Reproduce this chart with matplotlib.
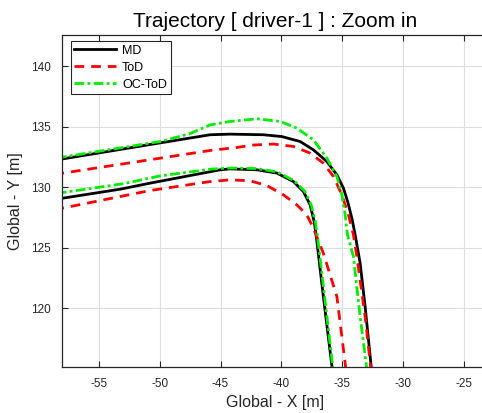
import matplotlib
matplotlib.use("Agg")
import matplotlib.pyplot as plt

plt.rcParams["font.family"] = ["Liberation Sans", "DejaVu Sans"]
plt.rcParams["axes.unicode_minus"] = False

# Trajectory edges (outer / inner) per driving mode, in global coordinates [m]
md_outer_x = [-60.0, -58.0, -49.95, -45.85, -44.21, -41.47, -39.96, -38.46, -37.37, -36.27, -35.44, -34.9, -34.55, -34.2, -33.94, -33.53, -33.12, -32.65, -32.5]
md_outer_y = [132.0, 132.35, 133.68, 134.35, 134.4, 134.35, 134.2, 133.79, 133.1, 132.14, 131.03, 129.93, 128.8, 127.4, 126.07, 123.72, 120.13, 115.45, 114.0]
md_inner_x = [-60.0, -58.0, -53.24, -50.78, -45.03, -44.21, -42.02, -40.37, -39.01, -38.19, -37.64, -37.31, -37.15, -36.55, -35.86, -35.7]
md_inner_y = [128.75, 129.1, 129.85, 130.35, 131.45, 131.53, 131.45, 131.18, 130.48, 129.65, 128.55, 127.17, 126.07, 120.96, 115.3, 114.0]

tod_outer_x = [-60.0, -58.0, -45.85, -43.66, -42.3, -40.65, -39.01, -37.64, -36.55, -35.72, -35.03, -34.49, -34.08, -33.8, -33.12, -32.7, -32.55]
tod_outer_y = [130.85, 131.17, 133.05, 133.3, 133.5, 133.58, 133.38, 132.83, 132.0, 130.89, 129.38, 127.72, 126.07, 124.27, 119.3, 115.45, 114.0]
tod_inner_x = [-60.0, -58.0, -50.78, -45.85, -44.21, -42.57, -41.2, -39.83, -38.73, -37.91, -37.37, -36.55, -35.44, -34.76, -34.6]
tod_inner_y = [127.9, 128.28, 129.74, 130.48, 130.62, 130.54, 130.15, 129.38, 128.55, 127.72, 126.62, 124.55, 120.96, 115.45, 114.0]

octod_outer_x = [-60.0, -58.0, -49.95, -47.5, -45.85, -44.21, -42.02, -40.1, -38.73, -37.37, -36.27, -35.44, -35.03, -34.76, -34.57, -34.08, -33.53, -33.04, -32.9]
octod_outer_y = [132.15, 132.5, 133.79, 134.45, 135.17, 135.45, 135.67, 135.45, 134.9, 133.93, 132.42, 130.89, 129.38, 127.72, 126.07, 124.27, 119.3, 115.45, 114.0]
octod_inner_x = [-60.0, -58.0, -53.0, -49.95, -45.85, -44.21, -42.02, -40.37, -39.01, -38.1, -37.55, -37.22, -37.05, -36.45, -35.8, -35.65]
octod_inner_y = [129.2, 129.57, 130.3, 130.95, 131.5, 131.6, 131.55, 131.28, 130.58, 129.7, 128.55, 127.17, 126.07, 120.96, 115.3, 114.0]

x_ticks = [-55, -50, -45, -40, -35, -30, -25]
y_ticks = [120, 125, 130, 135, 140]

fig = plt.figure(figsize=(4.82, 4.13), dpi=100)
ax = fig.add_axes([0.1293, 0.1121, 0.8838, 0.8032])

dark = (0.15, 0.15, 0.15)
dash = (0, (3.5, 2.5))
dashdot = (0, (3.5, 1.2, 1.0, 1.2))
green = "#00ee00"

ax.plot(md_outer_x, md_outer_y, color="black", lw=2.0, label="MD")
ax.plot(tod_outer_x, tod_outer_y, color="red", lw=2.0, ls=dash, label="ToD")
ax.plot(octod_outer_x, octod_outer_y, color=green, lw=2.0, ls=dashdot, label="OC-ToD")
ax.plot(md_inner_x, md_inner_y, color="black", lw=2.0)
ax.plot(tod_inner_x, tod_inner_y, color="red", lw=2.0, ls=dash)
ax.plot(octod_inner_x, octod_inner_y, color=green, lw=2.0, ls=dashdot)

ax.set_xlim(-58, -23)
ax.set_ylim(115.17, 142.6)
ax.set_xticks(x_ticks)
ax.set_yticks(y_ticks)
ax.grid(True, color=(0.87, 0.87, 0.87), lw=0.8)
ax.set_axisbelow(True)
ax.tick_params(direction="in", top=True, right=True, colors=dark, labelsize=8.5, length=4, pad=8)
for sp in ax.spines.values():
    sp.set_color(dark)
    sp.set_linewidth(0.9)

ax.set_xlabel("Global - X [m]", fontsize=11.5, color=dark, labelpad=4)
ax.set_ylabel("Global - Y [m]", fontsize=11.5, color=dark, labelpad=6)
ax.set_title("Trajectory [ driver-1 ] : Zoom in", fontsize=15, color="black", pad=6)

leg = ax.legend(loc="upper left", bbox_to_anchor=(0.0197, 0.982), borderaxespad=0,
                fontsize=9, handlelength=3.3, fancybox=False, framealpha=1,
                edgecolor=dark, labelspacing=0.4, borderpad=0.3, handletextpad=0.5)
leg.get_frame().set_linewidth(0.8)

fig.savefig("out.png", dpi=100)
